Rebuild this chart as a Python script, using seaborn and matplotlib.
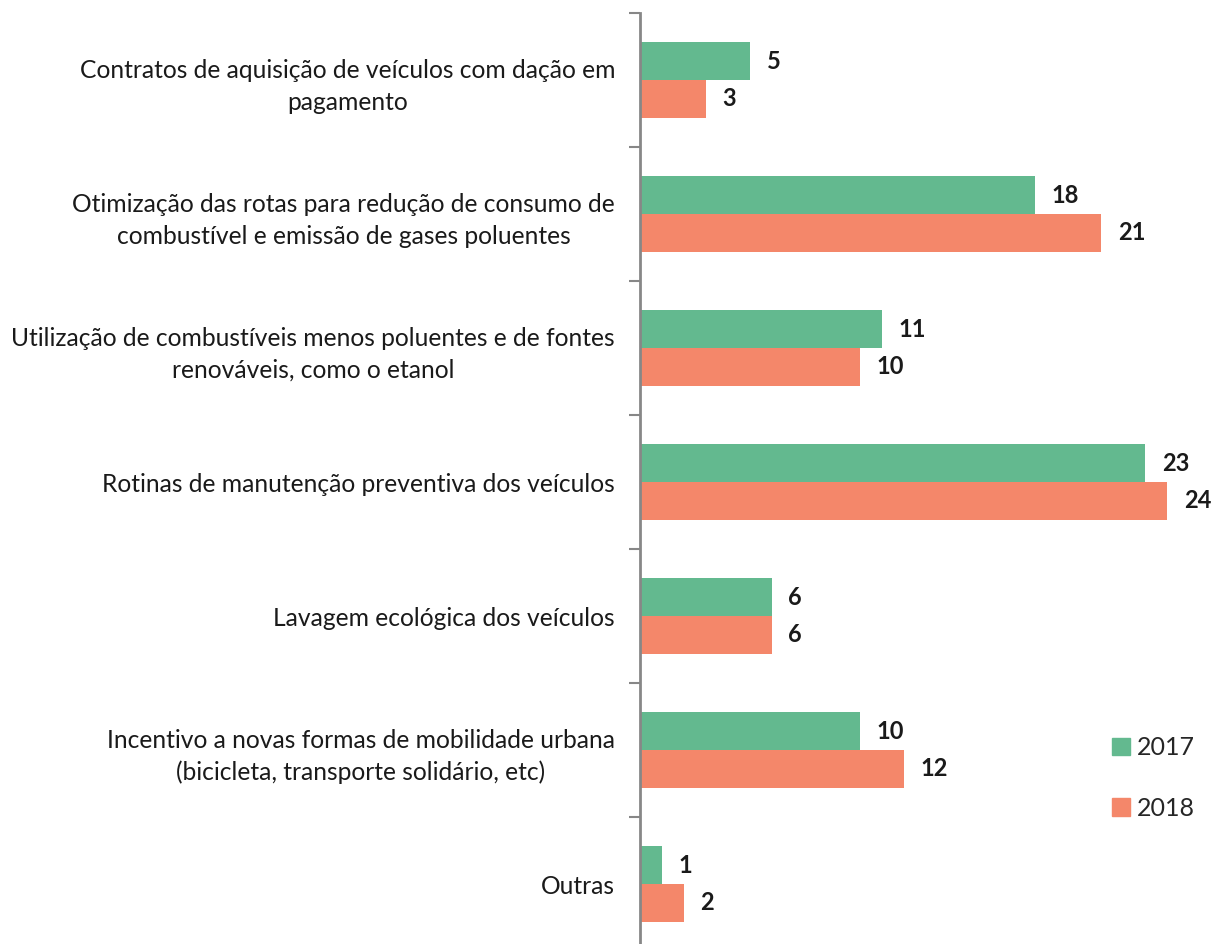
import pandas as pd
import matplotlib
matplotlib.use("Agg")
import matplotlib.pyplot as plt
import seaborn as sns

categorias = [
    "Contratos de aquisição de veículos com dação em\npagamento",
    "Otimização das rotas para redução de consumo de\ncombustível e emissão de gases poluentes",
    "Utilização de combustíveis menos poluentes e de fontes\nrenováveis, como o etanol",
    "Rotinas de manutenção preventiva dos veículos",
    "Lavagem ecológica dos veículos",
    "Incentivo a novas formas de mobilidade urbana\n(bicicleta, transporte solidário, etc)",
    "Outras",
]
valores_2017 = [5, 18, 11, 23, 6, 10, 1]
valores_2018 = [3, 21, 10, 24, 6, 12, 2]
anos = ["2017", "2018"]
cores = ["#63B98F", "#F4876A"]

df = pd.DataFrame({
    "categoria": categorias * 2,
    "valor": valores_2017 + valores_2018,
    "ano": [anos[0]] * len(categorias) + [anos[1]] * len(categorias),
})

sns.set_style("white")
plt.rcParams["font.family"] = ["Lato", "DejaVu Sans"]

fig = plt.figure(figsize=(12.2, 9.44), dpi=100)
ax = fig.add_axes([640 / 1220, -7 / 944, 580 / 1220, 938 / 944])

sns.barplot(data=df, y="categoria", x="valor", hue="ano", orient="h",
            palette=cores, width=0.567, saturation=1, linewidth=0, ax=ax, legend=False)

ax.set_xlim(0, 580 / 21.96)
ax.set_ylim(len(categorias) - 0.5, -0.5)
ax.set_xlabel("")
ax.set_ylabel("")
ax.set_xticks([])

for s in ["top", "right", "bottom"]:
    ax.spines[s].set_visible(False)
ax.spines["left"].set_color("#878787")
ax.spines["left"].set_linewidth(2)

ax.set_yticks(range(len(categorias)))
ax.set_yticklabels(categorias, fontsize=17.7, color="#1a1a1a",
                   multialignment="center", linespacing=1.45)
ax.tick_params(axis="y", which="major", length=0, pad=18)
ax.set_yticks([i - 0.5 for i in range(len(categorias))], minor=True)
ax.tick_params(axis="y", which="minor", left=True, length=8, width=1.5, color="#878787")

for cont in ax.containers:
    ax.bar_label(cont, fmt="%d", padding=12, fontsize=17, fontweight="bold", color="#1a1a1a")

handles = [plt.Rectangle((0, 0), 1, 1, color=c) for c in cores]
fig.legend(handles, anos, loc="upper left", bbox_to_anchor=(1112 / 1220, 1 - 736 / 944),
           frameon=False, fontsize=18, handlelength=0.7, handleheight=0.7,
           handletextpad=0.3, labelspacing=1.5, borderpad=0, borderaxespad=0)

fig.savefig("out.png", dpi=100)
